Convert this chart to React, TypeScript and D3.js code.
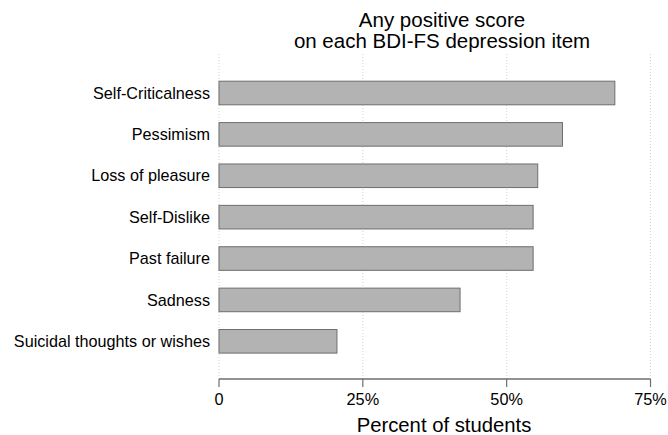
import React from "react";
import * as d3 from "d3";

const categories = [
  "Self-Criticalness",
  "Pessimism",
  "Loss of pleasure",
  "Self-Dislike",
  "Past failure",
  "Sadness",
  "Suicidal thoughts or wishes",
];
const values = [68.8, 59.7, 55.4, 54.6, 54.6, 41.9, 20.5];
const ticks = [0, 25, 50, 75];
const tickLabels = ["0", "25%", "50%", "75%"];
const titleLines = ["Any positive score", "on each BDI-FS depression item"];
const xTitle = "Percent of students";

const W = 668;
const H = 435;
const FONT = "'Liberation Sans', Arial, Helvetica, sans-serif";

export default function App() {
  const x = d3.scaleLinear().domain([0, 75]).range([219, 650.5]);
  const y = d3
    .scaleBand<string>()
    .domain(categories)
    .range([72.3, 362])
    .paddingInner(0.43)
    .paddingOuter(0.215);
  const bh = y.bandwidth();
  return (
    <svg
      width={W}
      height={H}
      style={{ position: "absolute", left: 0, top: 0, background: "#fff" }}
      fontFamily={FONT}
    >
      {titleLines.map((t, i) => (
        <text key={t} x={442} y={27 + i * 21} textAnchor="middle" fontSize={20.5} fill="#000">
          {t}
        </text>
      ))}
      {ticks.map((t) => (
        <line
          key={"g" + t}
          x1={x(t)}
          x2={x(t)}
          y1={54}
          y2={379}
          stroke="#c8c8c8"
          strokeWidth={0.8}
          strokeDasharray="1 2"
        />
      ))}
      {categories.map((c, i) => (
        <g key={c}>
          <rect
            x={x(0)}
            y={y(c)}
            width={x(values[i]) - x(0)}
            height={bh}
            fill="#b3b3b3"
            stroke="#6e6e6e"
            strokeWidth={1}
          />
          <text
            x={210}
            y={(y(c) as number) + bh / 2}
            dy="0.35em"
            textAnchor="end"
            fontSize={16.2}
            fill="#000"
          >
            {c}
          </text>
        </g>
      ))}
      <line x1={x(0)} x2={x(75)} y1={379} y2={379} stroke="#6e6e6e" strokeWidth={1.5} />
      {ticks.map((t, i) => (
        <g key={"t" + t}>
          <line x1={x(t)} x2={x(t)} y1={379} y2={387} stroke="#6e6e6e" strokeWidth={1.2} />
          <text x={x(t)} y={405} textAnchor="middle" fontSize={16.3} fill="#000">
            {tickLabels[i]}
          </text>
        </g>
      ))}
      <text x={444} y={432} textAnchor="middle" fontSize={20.3} fill="#000">
        {xTitle}
      </text>
    </svg>
  );
}
